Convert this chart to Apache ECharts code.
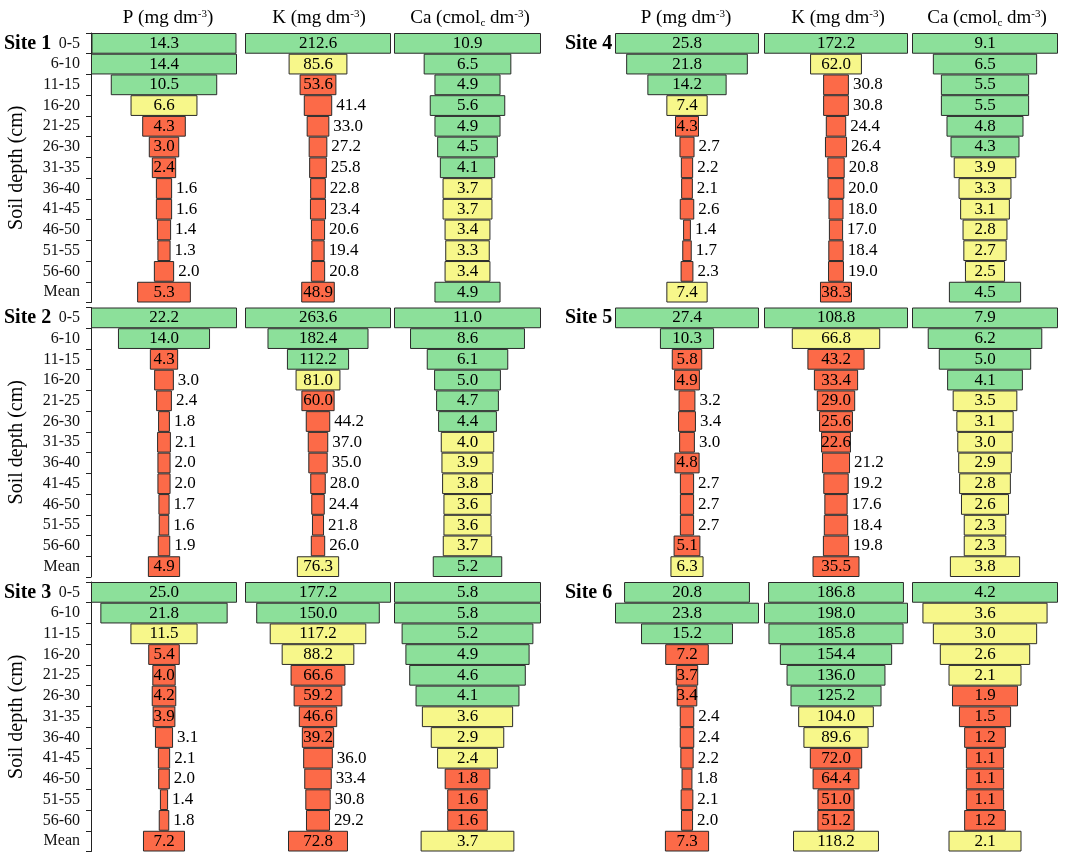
<!DOCTYPE html>
<html>
<head>
<meta charset="utf-8">
<script src="https://cdn.jsdelivr.net/npm/echarts@6/dist/echarts.min.js"></script>
<style>html,body{margin:0;padding:0;background:#fff;}#c{width:1084px;height:858px;}</style>
</head>
<body>
<div id="c"></div>
<script>
// ---------- DATA ----------
const depths = ['0-5','6-10','11-15','16-20','21-25','26-30','31-35','36-40','41-45','46-50','51-55','56-60','Mean'];
const siteNames = ['Site 1','Site 2','Site 3','Site 4','Site 5','Site 6'];

const s1P  = [14.3,14.4,10.5,6.6,4.3,3.0,2.4,1.6,1.6,1.4,1.3,2.0,5.3];
const s1K  = [212.6,85.6,53.6,41.4,33.0,27.2,25.8,22.8,23.4,20.6,19.4,20.8,48.9];
const s1Ca = [10.9,6.5,4.9,5.6,4.9,4.5,4.1,3.7,3.7,3.4,3.3,3.4,4.9];
const s1PCls = 'GGGYRRRRRRRRR', s1KCls = 'GYRRRRRRRRRRR', s1CaCls = 'GGGGGGGYYYYYG';

const s2P  = [22.2,14.0,4.3,3.0,2.4,1.8,2.1,2.0,2.0,1.7,1.6,1.9,4.9];
const s2K  = [263.6,182.4,112.2,81.0,60.0,44.2,37.0,35.0,28.0,24.4,21.8,26.0,76.3];
const s2Ca = [11.0,8.6,6.1,5.0,4.7,4.4,4.0,3.9,3.8,3.6,3.6,3.7,5.2];
const s2PCls = 'GGRRRRRRRRRRR', s2KCls = 'GGGYRRRRRRRRY', s2CaCls = 'GGGGGGYYYYYYG';

const s3P  = [25.0,21.8,11.5,5.4,4.0,4.2,3.9,3.1,2.1,2.0,1.4,1.8,7.2];
const s3K  = [177.2,150.0,117.2,88.2,66.6,59.2,46.6,39.2,36.0,33.4,30.8,29.2,72.8];
const s3Ca = [5.8,5.8,5.2,4.9,4.6,4.1,3.6,2.9,2.4,1.8,1.6,1.6,3.7];
const s3PCls = 'GGYRRRRRRRRRR', s3KCls = 'GGYYRRRRRRRRR', s3CaCls = 'GGGGGGYYYRRRY';

const s4P  = [25.8,21.8,14.2,7.4,4.3,2.7,2.2,2.1,2.6,1.4,1.7,2.3,7.4];
const s4K  = [172.2,62.0,30.8,30.8,24.4,26.4,20.8,20.0,18.0,17.0,18.4,19.0,38.3];
const s4Ca = [9.1,6.5,5.5,5.5,4.8,4.3,3.9,3.3,3.1,2.8,2.7,2.5,4.5];
const s4PCls = 'GGGYRRRRRRRRY', s4KCls = 'GYRRRRRRRRRRR', s4CaCls = 'GGGGGGYYYYYYG';

const s5P  = [27.4,10.3,5.8,4.9,3.2,3.4,3.0,4.8,2.7,2.7,2.7,5.1,6.3];
const s5K  = [108.8,66.8,43.2,33.4,29.0,25.6,22.6,21.2,19.2,17.6,18.4,19.8,35.5];
const s5Ca = [7.9,6.2,5.0,4.1,3.5,3.1,3.0,2.9,2.8,2.6,2.3,2.3,3.8];
const s5PCls = 'GGRRRRRRRRRRY', s5KCls = 'GYRRRRRRRRRRR', s5CaCls = 'GGGGYYYYYYYYY';

const s6P  = [20.8,23.8,15.2,7.2,3.7,3.4,2.4,2.4,2.2,1.8,2.1,2.0,7.3];
const s6K  = [186.8,198.0,185.8,154.4,136.0,125.2,104.0,89.6,72.0,64.4,51.0,51.2,118.2];
const s6Ca = [4.2,3.6,3.0,2.6,2.1,1.9,1.5,1.2,1.1,1.1,1.1,1.2,2.1];
const s6PCls = 'GGGRRRRRRRRRR', s6KCls = 'GGGGGGYYRRRRY', s6CaCls = 'GYYYYRRRRRRRY';

// ---------- LAYOUT / STYLE ----------
const sites = [
  [[s1P,s1PCls],[s1K,s1KCls],[s1Ca,s1CaCls]],
  [[s2P,s2PCls],[s2K,s2KCls],[s2Ca,s2CaCls]],
  [[s3P,s3PCls],[s3K,s3KCls],[s3Ca,s3CaCls]],
  [[s4P,s4PCls],[s4K,s4KCls],[s4Ca,s4CaCls]],
  [[s5P,s5PCls],[s5K,s5KCls],[s5Ca,s5CaCls]],
  [[s6P,s6PCls],[s6K,s6KCls],[s6Ca,s6CaCls]]
];
const SERIF = '"Liberation Serif","Times New Roman",serif';
const colors = {G:'#8ce09a', Y:'#f7f78a', R:'#fc6a48'};
const rowTops = [33, 307.5, 582];
const gridH = 269.5;
const colLefts = [[91,245,394],[615,764,912]];
const colWidths = [[146,146,147],[144,144,146]];
const headerX = [[168,319,470],[686,838,987]];

const grid = [], xAxis = [], yAxis = [], series = [], graphic = [];
let gi = 0;
sites.forEach((panels, si) => {
  const col = si < 3 ? 0 : 1;
  const row = si % 3;
  const top = rowTops[row];
  panels.forEach((pc, pi) => {
    const vals = pc[0], cls = pc[1];
    const mx = Math.max(...vals);
    const left = colLefts[col][pi], w = colWidths[col][pi];
    grid.push({left: left, top: top, width: w, height: gridH});
    xAxis.push({type:'value', gridIndex: gi, min: 0, max: mx, show: false});
    const showAxis = (col === 0 && pi === 0);
    yAxis.push({
      type:'category', gridIndex: gi, data: depths, inverse: true,
      show: true,
      axisLine: {show: showAxis, lineStyle: {color:'#222', width: 1}},
      axisTick: {show: showAxis, length: 5, lineStyle: {color:'#222'}},
      axisLabel: {show: showAxis, interval: 0, margin: 11, fontSize: 16, fontFamily: SERIF, color:'#111'},
      splitLine: {show: false}
    });
    const offs = vals.map(v => (mx - v) / 2);
    const items = vals.map((v, k) => {
      const txt = v.toFixed(1);
      const px = v / mx * w;
      const need = txt.length <= 3 ? 20.4 : (txt.length === 4 ? 29.8 : 40);
      const inside = px >= need;
      return {
        value: v,
        itemStyle: {color: colors[cls[k]]},
        label: inside ? {position:'inside'} : {position:'right', distance: 4}
      };
    });
    series.push({
      type:'bar', xAxisIndex: gi, yAxisIndex: gi, stack:'s'+gi, data: offs,
      barCategoryGap:'0%', silent: true,
      itemStyle: {color:'rgba(0,0,0,0)', borderWidth: 0},
      label: {show: false}, emphasis: {disabled: true}
    });
    series.push({
      type:'bar', xAxisIndex: gi, yAxisIndex: gi, stack:'s'+gi, data: items,
      barCategoryGap:'0%', silent: true,
      itemStyle: {borderColor:'#2a2a2a', borderWidth: 1},
      label: {show: true, fontSize: 17, fontFamily: SERIF, color:'#000',
              formatter: p => Number(p.value).toFixed(1)},
      emphasis: {disabled: true}
    });
    gi++;
  });
  // site label
  graphic.push({
    type:'text', x: col === 0 ? 4 : 565, y: top + gridH / 26,
    style: {text: siteNames[si], fontSize: 20, fontWeight:'bold', fontFamily: SERIF, fill:'#000',
            align:'left', verticalAlign:'middle'}
  });
  if (col === 0) {
    graphic.push({
      type:'text', x: 17, y: top + gridH / 2, rotation: Math.PI / 2,
      style: {text:'Soil depth (cm)', fontSize: 20, fontFamily: SERIF, fill:'#000',
              align:'center', verticalAlign:'middle'}
    });
  }
});

// column headers
const headerTexts = ['{a|P (mg dm}{s|-3}{a|)}', '{a|K (mg dm}{s|-3}{a|)}', '{a|Ca (cmol}{b|c}{a| dm}{s|-3}{a|)}'];
const rich = {
  a: {fontSize: 19, fontFamily: SERIF, color:'#000', lineHeight: 24, verticalAlign:'middle'},
  s: {fontSize: 11, fontFamily: SERIF, color:'#000', lineHeight: 24, verticalAlign:'top', padding:[3,0,0,0]},
  b: {fontSize: 11, fontFamily: SERIF, color:'#000', lineHeight: 24, verticalAlign:'bottom', padding:[0,0,1,0]}
};
[0,1].forEach(col => {
  headerTexts.forEach((t, pi) => {
    graphic.push({
      type:'text', x: headerX[col][pi], y: 18,
      style: {text: t, rich: rich, align:'center', verticalAlign:'middle', fill:'#000'}
    });
  });
});

const chart = echarts.init(document.getElementById('c'), null, {renderer:'canvas'});
chart.setOption({
  animation: false,
  backgroundColor: '#fff',
  grid, xAxis, yAxis, series, graphic
});
</script>
</body>
</html>
